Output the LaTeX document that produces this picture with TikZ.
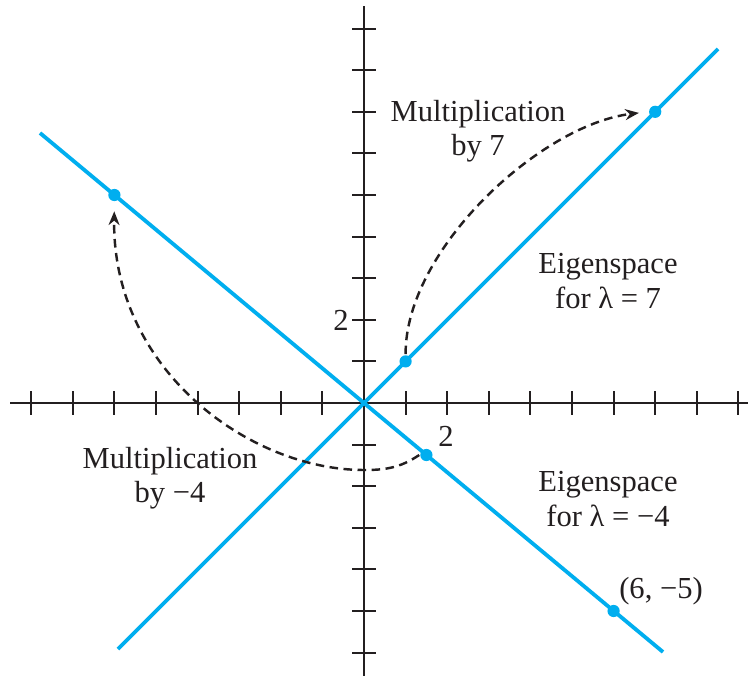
\documentclass[tikz,border=0pt]{standalone}
\usepackage{fontspec}
\setmainfont{Liberation Serif}
\usetikzlibrary{arrows.meta}
\definecolor{eigblue}{RGB}{0,174,239}
\definecolor{inkgray}{RGB}{35,31,32}
\begin{document}
\begin{tikzpicture}[x=.0115cm,y=-.0115cm,line width=.7pt,color=inkgray,
  every node/.style={font=\fontsize{10}{11.2}\selectfont,inner sep=1pt},
  espace/.style={eigblue,line width=1.25pt},
  vdot/.style={circle,fill=eigblue,inner sep=0pt,minimum size=4pt},
  mult/.style={line width=.8pt,dash pattern=on 2.8pt off 1.8pt,
    -{Stealth[length=4.5pt,width=3.6pt]},shorten >=3pt}]
  \path[use as bounding box] (0,0) rectangle (751,676);
  \coordinate (O) at (364,403);
  % axes and ticks
  \draw (10,403)--(748,403) (364,6)--(364,676);
  \foreach \i in {-8,...,-1,1,2,...,9} {\draw ({364+41.6*\i},391)--++(0,24);}
  \foreach \j in {-6,...,-1,1,2,...,9} {\draw (352,{403-41.6*\j})--++(24,0);}
  % eigenspaces
  \draw[espace] (118,649)--(O)--(718,49);
  \draw[espace] (40,133)--(O)--(663,652);
  \node[vdot] (u) at (405.6,361.4) {};
  \node[vdot] (Au) at (655.2,111.8) {};
  \node[vdot] (v) at (426.4,455) {};
  \node[vdot] (Av) at (114.4,195) {};
  \node[vdot] (w) at (613.6,611) {};
  \draw[mult] (u.north) .. controls (405,250) and (540,125) .. (Au.west);
  \draw[mult] (v.west) .. controls (400,468) and (385,470) .. (364,470)
    .. controls (250,470) and (112,370) .. (Av.south);
  \node[align=center] (m7) at (478,131) {Multiplication\\by 7};
  \node[align=center] (m4) at (170,478) {Multiplication\\by −4};
  \node[align=center] (e7) at (608,281) {Eigenspace\\for λ = 7};
  \node[align=center] (e4) at (608,499) {Eigenspace\\for λ = −4};
  \node (xtwo) at (446,436) {2};
  \node (ytwo) at (341,320) {2};
  \node (wlab) at (661,591) {(6, −5)};
\end{tikzpicture}
\end{document}
